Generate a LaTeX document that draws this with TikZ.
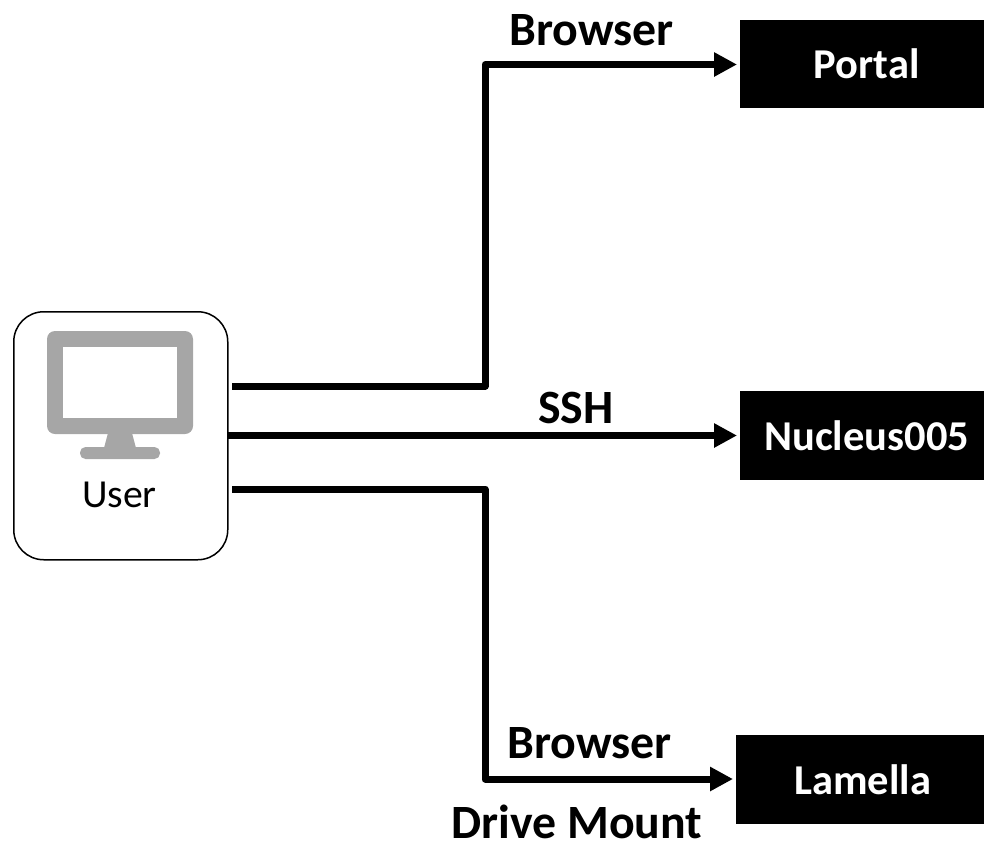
\documentclass[tikz,border=0pt]{standalone}
\usepackage{fontspec}
\setmainfont{Carlito}
\usetikzlibrary{arrows.meta}
\tikzset{
 target/.style={fill=black,text=white,font=\fontsize{42.5}{46}\selectfont\bfseries,inner sep=0pt,anchor=north west},
 conn/.style={line width=7pt,-{Triangle[length=23pt,width=23pt]},line join=round},
 lab/.style={font=\fontsize{47.8}{50}\selectfont\bfseries,inner sep=0pt},
 mon/.style={fill=black!35,draw=none}
}
\begin{document}
\begin{tikzpicture}[x=1pt,y=-1pt]
\useasboundingbox (0,0) rectangle (984,841);
\node[draw,line width=1.5pt,rounded corners=30pt,minimum width=214pt,minimum height=248pt,anchor=north west,inner sep=0pt] (user) at (13,311) {};
\fill[mon,rounded corners=8pt] (47,331) rectangle (193,434);
\fill[white] (63,347) rectangle (177,418);
\fill[mon] (108,433) -- (132,433) -- (136,448) -- (104,448) -- cycle;
\fill[mon,rounded corners=5.5pt] (80,447) rectangle (160,459);
\node[font=\fontsize{39.7}{42}\selectfont,inner sep=0pt] (ulabel) at (119.5,495) {User};
\node[target,minimum width=244pt,minimum height=88pt] (portal) at (740,20) {\hspace*{9pt}Portal};
\node[target,minimum width=244pt,minimum height=89pt] (nuc) at (740,391) {\hspace*{9pt}Nucleus005};
\node[target,minimum width=248pt,minimum height=89pt] (lam) at (736,735) {\hspace*{5pt}Lamella};
\coordinate (a) at (232,386);
\coordinate (b) at (227,435.5);
\coordinate (c) at (232,489);
\coordinate (pe) at (737,64.5);
\coordinate (ne) at (737,435.5);
\coordinate (le) at (733,779);
\draw[conn] (a) -- (485,386) -- (485,64.5) -- (pe);
\draw[conn] (b) -- (ne);
\draw[conn] (c) -- (485,489) -- (485,779) -- (le);
\node[lab] (l1) at (591.5,30) {Browser};
\node[lab] (l2) at (576,408) {SSH};
\node[lab] (l3) at (589.5,743) {Browser};
\node[lab] (l4) at (577,822) {Drive Mount};
\end{tikzpicture}
\end{document}
